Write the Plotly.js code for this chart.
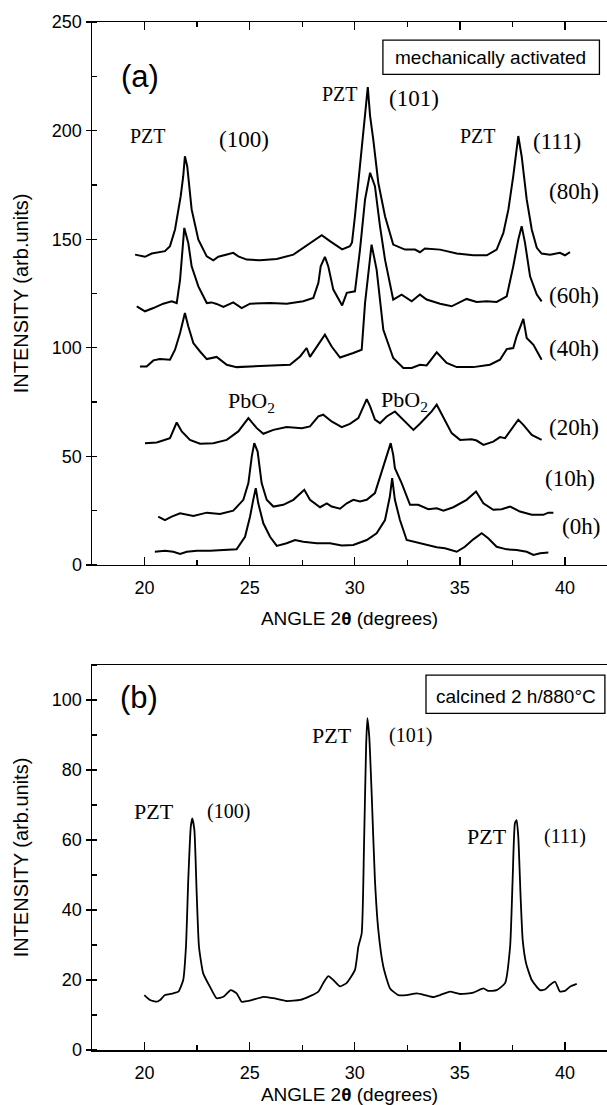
<!DOCTYPE html>
<html>
<head>
<meta charset="utf-8">
<script src="https://cdn.plot.ly/plotly-3.0.1.min.js"></script>
<style>html,body{margin:0;padding:0;background:#fff;}#chart{width:607px;height:1105px;}</style>
</head>
<body>
<div id="chart"></div>
<script>
// ---- Panel (a): mechanically activated, milling times ----
var angle80h = [19.55,20.02,20.34,20.97,21.21,21.45,21.72,21.84,21.92,22.03,22.24,22.40,22.56,22.96,23.27,23.51,23.83,24.22,24.46,24.86,25.49,26.29,27.08,27.87,28.43,28.82,29.40,29.77,29.87,30.01,30.17,30.41,30.62,30.73,30.88,31.12,31.44,31.83,32.39,32.87,33.10,33.34,34.06,34.85,35.64,36.28,36.75,37.07,37.31,37.54,37.78,37.94,38.18,38.42,38.66,38.89,39.29,39.76,40.00,40.24];
var int80h   = [142.9,141.9,143.4,144.5,146.8,154.5,169.8,179,188.2,183.6,163.7,156,149.8,142.1,140.3,141.9,142.6,143.7,142.1,140.6,140.3,140.9,142.9,148.3,151.8,149.1,145.3,146.8,148.5,160.6,176,199,220,206.7,196,176,160.6,147.5,145.2,145.2,144,145.7,145.2,143.4,142.6,142.6,145.2,152.9,163.7,179,197.5,188.2,168.3,154.5,146,143.4,142.9,143.7,142.6,144];

var angle60h = [19.63,20.02,20.42,20.89,21.29,21.53,21.69,21.81,21.89,22.08,22.24,22.56,22.96,23.19,23.43,23.75,24.22,24.62,25.02,25.97,26.76,27.55,28.03,28.27,28.38,28.58,28.74,28.98,29.40,29.62,30.01,30.25,30.49,30.73,30.96,31.20,31.44,31.83,32.23,32.71,33.10,33.42,34.06,34.61,35.32,35.80,36.28,36.75,37.23,37.54,37.78,37.94,38.10,38.34,38.66,38.89];
var int60h   = [119.1,116.8,118.3,120.3,121.4,120.6,131.4,145.2,155.2,148.3,137.5,128.3,120.6,120.9,120.2,118.8,120.9,118.3,120.3,120.6,120.3,121.4,123,129.9,137.5,141.9,137.5,126.8,119.5,125.3,126,145.2,168.3,180.6,174.4,156,140.6,122.2,124.5,121.4,124.5,122.2,120.3,119.1,122.5,121.1,121.4,121.1,123.7,137.5,149.8,156,148.3,132.9,124.5,121.4];

var angle40h = [19.78,20.10,20.42,20.73,21.21,21.45,21.69,21.92,22.08,22.32,22.64,22.96,23.43,23.91,24.38,25.02,25.97,26.92,27.40,27.71,27.87,28.11,28.58,28.90,29.30,29.93,30.33,30.49,30.65,30.80,31.04,31.20,31.36,31.83,32.31,32.71,33.10,33.42,33.90,34.37,34.85,35.64,36.43,36.91,37.23,37.54,37.70,38.02,38.18,38.50,38.89];
var int40h   = [91.4,91.4,94.2,94.8,94.5,99.1,106.8,116,109.9,102.2,98.3,94.8,95.8,92.2,91.1,91.4,91.7,92.2,96,99.9,95.8,99.1,106,100.6,95.5,97.6,99.1,120.7,136,147.5,136,120.7,108.3,95.3,90.7,90.7,92.2,91.9,97.9,93,91.1,91.1,92.2,94.5,99.4,99.9,105.3,113.3,104.5,101.4,94.5];

var angle20h = [20.02,20.58,21.21,21.37,21.53,21.77,22.16,22.64,23.27,23.91,24.46,24.94,25.34,25.65,26.13,26.76,27.48,27.87,28.27,28.50,28.90,29.38,29.77,30.17,30.41,30.57,30.73,30.96,31.20,31.52,31.91,32.31,32.79,33.10,33.66,33.90,34.22,34.61,35.01,35.56,35.80,36.12,36.59,36.91,37.15,37.54,37.78,38.02,38.42,38.89];
var int20h   = [56.1,56.4,58.4,62.2,65.6,61.5,57.6,55.8,56.1,57.6,61.5,67.6,63,60.4,62.2,63.5,63,63.8,68.4,69.2,66.1,63.5,65,67.6,73,76.4,73,66.9,65.3,68.4,70.7,66.9,62.2,65,70.7,73.8,67.6,60.7,57.6,57.9,57.3,55.3,56.8,58.9,58.4,63.8,66.9,64.5,59.9,57.6];

var angle10h = [20.65,20.97,21.29,21.69,22.32,22.96,23.59,24.22,24.70,24.94,25.10,25.22,25.38,25.57,25.81,26.13,26.60,27.08,27.60,27.87,28.35,28.67,28.90,29.30,29.62,29.93,30.25,30.57,30.96,31.20,31.52,31.71,31.83,31.91,32.23,32.63,33.02,33.50,33.90,34.22,34.69,35.32,35.77,36.12,36.59,36.99,37.39,37.86,38.42,38.97,39.21,39.45];
var int10h   = [22.3,20.7,22.3,23.8,22.6,24.1,23.5,25,30,37.7,49.9,56.1,52.2,37.7,30,26.9,27.7,30,34.6,30,26.6,28.4,26.9,25.9,28.4,30,29.2,30,33.1,40.7,49.9,56.1,50.7,44.6,37.7,27.7,27.7,25.7,26.1,25,26.6,30,33.8,28.4,25.4,25.7,26.9,24.6,23.1,23.1,24.1,24.1];

var angle0h = [20.49,20.97,21.37,21.69,22.01,22.49,23.12,23.91,24.38,24.78,25.02,25.17,25.29,25.41,25.65,25.97,26.29,26.76,27.16,27.55,28.19,28.82,29.38,29.93,30.57,31.04,31.44,31.67,31.78,31.91,32.15,32.47,33.26,33.90,34.29,34.85,35.24,35.64,36.04,36.35,36.75,37.23,37.70,38.18,38.50,38.82,39.21];
var int0h   = [6.1,6.6,6.1,5.1,6.1,6.6,6.6,6.9,7.2,13,22.3,30,35.4,28.4,19.2,13,8.8,10,11.5,10.7,10,10,9,9.2,11.5,14.6,20.7,31.5,40,30,20.7,11.5,9.7,8.2,7.7,6.1,8.4,11.8,14.6,12.3,8.4,7.2,6.9,6.1,4.6,5.4,5.7];

// ---- Panel (b): calcined 2 h / 880 C ----
var angleCalc = [19.99,20.26,20.58,20.74,20.97,21.37,21.61,21.84,21.97,22.08,22.20,22.27,22.37,22.48,22.59,22.79,23.11,23.43,23.75,24.10,24.38,24.62,25.02,25.65,26.13,26.76,27.40,27.87,28.27,28.50,28.74,28.98,29.30,29.62,30.01,30.17,30.33,30.44,30.54,30.60,30.69,30.81,30.96,31.12,31.36,31.68,32.07,32.47,32.95,33.34,33.74,34.06,34.53,35.01,35.64,36.12,36.35,36.75,37.15,37.39,37.51,37.62,37.70,37.78,37.89,37.99,38.15,38.42,38.81,39.05,39.29,39.53,39.76,40.00,40.24,40.56];
var intCalc   = [15.7,14.3,13.8,14.3,15.7,16.2,16.7,20,29.5,48.6,63.8,66.2,62.9,44.8,29.5,21.9,18.1,14.8,15.2,17.1,16.2,13.8,14.1,15.2,14.8,14,14.3,15.4,16.7,19.1,21.1,20,18.2,19.2,22.9,29.5,33.3,58.1,86.7,94.8,89.5,72.4,48.6,34.3,23.8,17.6,15.7,15.7,16.2,15.7,15.1,15.7,16.7,16,16.4,17.6,16.9,17.1,19.1,29.5,48.6,64.8,65.7,60.9,43.8,31.4,24.8,20,17.1,17.3,18.6,19.5,16.7,16.9,18.1,18.9];

// tick labels
var xTicks = [20, 25, 30, 35, 40];
var yTicksA = [0, 50, 100, 150, 200, 250];
var yTicksB = [0, 20, 40, 60, 80, 100];

var SANS = 'Arial, "Liberation Sans", Helvetica, sans-serif';
var SERIF = '"Times New Roman", "Liberation Serif", Times, serif';

function lineTrace(x, y, name, xa, ya, w, shape) {
  return {x: x, y: y, name: name, type: 'scatter', mode: 'lines', xaxis: xa, yaxis: ya,
          line: {color: '#000', width: w, shape: shape || 'linear', smoothing: 0.5},
          hoverinfo: 'skip', showlegend: false};
}

var data = [
  lineTrace(angle80h, int80h, '80h', 'x', 'y', 2),
  lineTrace(angle60h, int60h, '60h', 'x', 'y', 2),
  lineTrace(angle40h, int40h, '40h', 'x', 'y', 2),
  lineTrace(angle20h, int20h, '20h', 'x', 'y', 2),
  lineTrace(angle10h, int10h, '10h', 'x', 'y', 2),
  lineTrace(angle0h, int0h, '0h', 'x', 'y', 2),
  lineTrace(angleCalc, intCalc, 'calcined', 'x2', 'y2', 1.8, 'spline')
];

var tickFont = {family: SANS, size: 18, color: '#000'};
var titleFont = {family: SANS, size: 19, color: '#000'};

function xAxis(anchor, mirror, standoff) {
  return {
    anchor: anchor, range: [17.5, 42.0], tickvals: xTicks, ticktext: xTicks.map(String),
    ticks: 'inside', ticklen: 8, tickwidth: 1.3, tickcolor: '#000',
    minor: {dtick: 2.5, tick0: 17.5, ticks: 'inside', ticklen: 5, tickwidth: 1.3, tickcolor: '#000'},
    showline: true, linecolor: '#000', linewidth: 1.5, mirror: mirror,
    showgrid: false, zeroline: false, tickfont: tickFont, ticklabelstandoff: 6,
    title: {text: 'ANGLE 2<b>θ</b> (degrees)', font: titleFont, standoff: standoff},
    fixedrange: true
  };
}
function yAxis(domain, range, vals, minorDt, anchor) {
  return {
    anchor: anchor, domain: domain, range: range, tickvals: vals, ticktext: vals.map(String),
    ticks: 'outside', ticklen: 5, tickwidth: 1.3, tickcolor: '#000',
    minor: {dtick: minorDt, ticks: 'inside', ticklen: 5, tickwidth: 1.3, tickcolor: '#000'},
    showline: true, linecolor: '#000', linewidth: 1.5, mirror: false,
    showgrid: false, zeroline: false, tickfont: tickFont,
    title: {text: 'INTENSITY (arb.units)', font: {family: SANS, size: 20, color: '#000'}, standoff: 18},
    fixedrange: true
  };
}

function ann(x, y, text, font, size, xref, yref) {
  return {x: x, y: y, xref: xref, yref: yref, text: text, showarrow: false,
          xanchor: 'center', yanchor: 'middle', font: {family: font, size: size, color: '#000'}};
}

var A = ['x', 'y'], B = ['x2', 'y2'];
var annotations = [
  ann(19.76, 225.0, '(a)', SANS, 31, A[0], A[1]),
  ann(20.16, 197.3, 'PZT', SERIF, 20, A[0], A[1]),
  ann(24.72, 195.9, '(100)', SERIF, 23, A[0], A[1]),
  ann(29.30, 216.7, 'PZT', SERIF, 20, A[0], A[1]),
  ann(32.82, 214.8, '(101)', SERIF, 23, A[0], A[1]),
  ann(35.84, 197.3, 'PZT', SERIF, 20, A[0], A[1]),
  ann(39.62, 195.0, '(111)', SERIF, 23, A[0], A[1]),
  ann(40.43, 172.0, '(80h)', SERIF, 23, A[0], A[1]),
  ann(40.43, 124.0, '(60h)', SERIF, 23, A[0], A[1]),
  ann(40.43, 99.6, '(40h)', SERIF, 23, A[0], A[1]),
  ann(40.43, 63.2, '(20h)', SERIF, 23, A[0], A[1]),
  ann(40.24, 39.6, '(10h)', SERIF, 23, A[0], A[1]),
  ann(40.74, 17.5, '(0h)', SERIF, 23, A[0], A[1]),
  ann(25.11, 75.0, 'PbO<sub>2</sub>', SERIF, 22, A[0], A[1]),
  ann(32.39, 75.5, 'PbO<sub>2</sub>', SERIF, 22, A[0], A[1]),
  ann(36.48, 233.8, 'mechanically activated', SANS, 19, A[0], A[1]),

  ann(19.74, 100.7, '(b)', SANS, 31, B[0], B[1]),
  ann(20.45, 68.1, 'PZT', SERIF, 22, B[0], B[1]),
  ann(23.97, 68.1, '(100)', SERIF, 20, B[0], B[1]),
  ann(28.92, 90.0, 'PZT', SERIF, 22, B[0], B[1]),
  ann(32.66, 90.0, '(101)', SERIF, 20, B[0], B[1]),
  ann(36.29, 61.0, 'PZT', SERIF, 22, B[0], B[1]),
  ann(40.00, 61.1, '(111)', SERIF, 20, B[0], B[1]),
  ann(37.67, 101.1, 'calcined 2 h/880°C', SANS, 19, B[0], B[1])
];

var shapes = [
  {type: 'rect', xref: 'x', yref: 'y', x0: 31.34, x1: 41.64, y0: 225.9, y1: 241.7,
   line: {color: '#000', width: 1.3}, fillcolor: 'rgba(0,0,0,0)'},
  {type: 'rect', xref: 'x2', yref: 'y2', x0: 33.39, x1: 41.90, y0: 96.2, y1: 107.1,
   line: {color: '#000', width: 1.3}, fillcolor: 'rgba(0,0,0,0)'}
];

var layout = {
  width: 607, height: 1105,
  margin: {l: 92, r: 0, t: 22, b: 55},
  paper_bgcolor: '#fff', plot_bgcolor: '#fff',
  showlegend: false,
  xaxis: xAxis('y', 'ticks', 14),
  yaxis: yAxis([0.4718, 1], [0, 250], yTicksA, 25, 'x'),
  xaxis2: xAxis('y2', true, 8),
  yaxis2: yAxis([0, 0.3745], [0, 110], yTicksB, 10, 'x2'),
  annotations: annotations,
  shapes: shapes
};

Plotly.newPlot('chart', data, layout, {displayModeBar: false, staticPlot: true});
</script>
</body>
</html>
